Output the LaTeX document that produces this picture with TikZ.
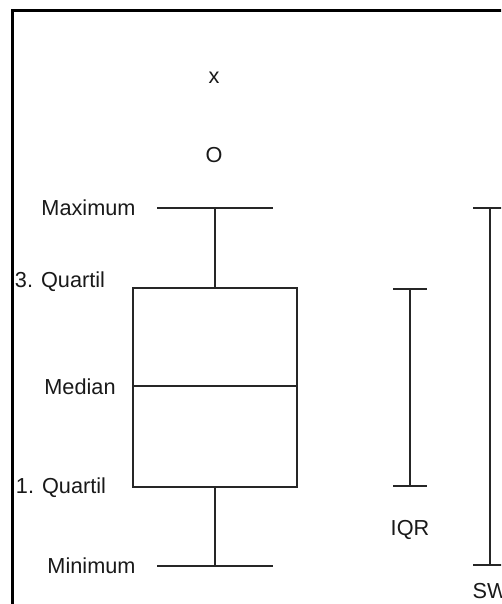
\documentclass[tikz,border=0pt]{standalone}
\usepackage{fontspec}
\setmainfont{Liberation Sans}
\begin{document}
\begin{tikzpicture}[x=1pt,y=-1pt,
  lbl/.style={font=\fontsize{21.7}{26}\selectfont, inner sep=0pt, text=black!90, anchor=base},
  ln/.style={line width=1.7pt, draw=black!85}]
\useasboundingbox (0,0) rectangle (501,604);
\clip (0,0) rectangle (501,604);
% frame
\coordinate (fbl) at (12,650);
\coordinate (ftl) at (12,11);
\coordinate (ftr) at (560,11);
\draw[line width=3pt] (fbl) -- (ftl) -- (ftr);
% outliers
\node[lbl] (x) at (214,84) {x};
\node[lbl] (o) at (214,163) {O};
% labels
\node[lbl] (max) at (88.5,215.5) {Maximum};
\node[lbl] (q3) at (60,287) {3. Quartil};
\node[lbl] (med) at (80,394) {Median};
\node[lbl] (q1) at (61,493) {1. Quartil};
\node[lbl] (min) at (91.5,573.5) {Minimum};
\node[lbl] (iqr) at (410,535) {IQR};
\node[lbl] (sw) at (490,598) {SW};
% box
\coordinate (bq3l) at (133,288);
\coordinate (bq3r) at (297,288);
\coordinate (bq1l) at (133,487);
\coordinate (bq1r) at (297,487);
\coordinate (bmedl) at (133,386);
\coordinate (bmedr) at (297,386);
\draw[ln] (bq3l) -- (bq3r) -- (bq1r) -- (bq1l) -- cycle;
\draw[ln] (bmedl) -- (bmedr);
% whiskers
\coordinate (wmaxl) at (157,208);
\coordinate (wmaxr) at (273,208);
\coordinate (wmaxc) at (215,208);
\coordinate (wq3c) at (215,288);
\coordinate (wminl) at (157,566);
\coordinate (wminr) at (273,566);
\coordinate (wminc) at (215,566);
\coordinate (wq1c) at (215,487);
\draw[ln] (wmaxl) -- (wmaxr);
\draw[ln] (wmaxc) -- (wq3c);
\draw[ln] (wminl) -- (wminr);
\draw[ln] (wminc) -- (wq1c);
% IQR bar
\coordinate (it) at (410,289);
\coordinate (ib) at (410,486);
\coordinate (itl) at (393,289);
\coordinate (itr) at (427,289);
\coordinate (ibl) at (393,486);
\coordinate (ibr) at (427,486);
\draw[ln] (it) -- (ib);
\draw[ln] (itl) -- (itr);
\draw[ln] (ibl) -- (ibr);
% SW bar
\coordinate (st) at (490,208);
\coordinate (sb) at (490,565);
\coordinate (stl) at (473,208);
\coordinate (str) at (507,208);
\coordinate (sbl) at (473,565);
\coordinate (sbr) at (507,565);
\draw[ln] (st) -- (sb);
\draw[ln] (stl) -- (str);
\draw[ln] (sbl) -- (sbr);
\end{tikzpicture}
\end{document}
